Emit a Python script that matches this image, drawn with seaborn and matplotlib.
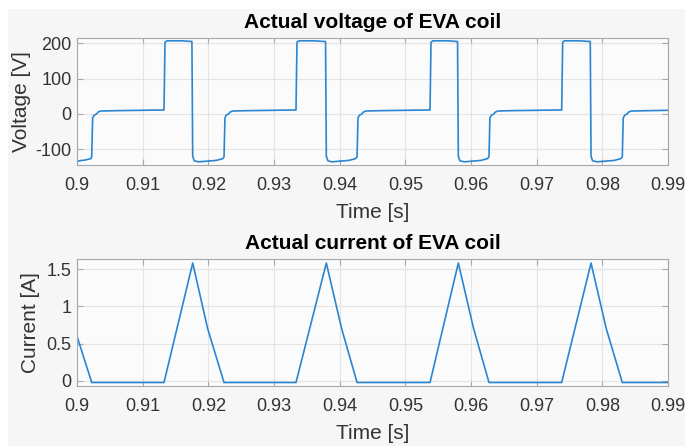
import matplotlib
matplotlib.use("Agg")
import matplotlib.pyplot as plt
from matplotlib.patches import Rectangle
import seaborn as sns

# voltage of the EVA coil
v_time = [0.9000, 0.9012, 0.9021, 0.90224, 0.90238, 0.9026, 0.9030, 0.9032, 0.9036, 0.9060,
          0.91325, 0.91340, 0.9137, 0.9160, 0.91750, 0.91762, 0.91785, 0.9185,
          0.9212, 0.9222, 0.92239, 0.92253, 0.9227, 0.9231, 0.9233, 0.9237, 0.9260,
          0.93335, 0.93350, 0.9338, 0.9360, 0.93785, 0.93797, 0.93820, 0.9388,
          0.9414, 0.9424, 0.94265, 0.94279, 0.9430, 0.9434, 0.9436, 0.9440, 0.9460,
          0.95376, 0.95391, 0.9542, 0.9565, 0.95795, 0.95807, 0.95830, 0.9590,
          0.9615, 0.9625, 0.96274, 0.96288, 0.9631, 0.9635, 0.9637, 0.9641, 0.9660,
          0.97381, 0.97396, 0.9742, 0.9765, 0.97816, 0.97828, 0.97851, 0.9792,
          0.9818, 0.9828, 0.98304, 0.98318, 0.9834, 0.9838, 0.9840, 0.9844, 0.9870, 0.9900]
v_value = [-134, -131, -127, -122, -12, -4, 0, 5, 8, 9,
           11, 203, 207, 207, 205, -120, -133, -136,
           -132, -127, -122, -12, -4, 0, 5, 8, 9,
           11, 203, 207, 207, 205, -120, -133, -136,
           -132, -127, -122, -12, -4, 0, 5, 8, 9,
           11, 203, 207, 207, 205, -120, -133, -136,
           -132, -127, -122, -12, -4, 0, 5, 8, 9,
           11, 203, 207, 207, 205, -120, -133, -136,
           -132, -127, -122, -12, -4, 0, 5, 8, 9, 10]

# current of the EVA coil
i_time = [0.9000, 0.90224, 0.91325, 0.91762, 0.9199, 0.92239,
          0.93335, 0.93797, 0.9403, 0.94265,
          0.95376, 0.95807, 0.9604, 0.96274,
          0.97381, 0.97828, 0.9806, 0.98304, 0.9900]
i_value = [0.60, -0.02, -0.02, 1.58, 0.70, -0.02,
           -0.02, 1.58, 0.70, -0.02,
           -0.02, 1.58, 0.70, -0.02,
           -0.02, 1.58, 0.70, -0.02, -0.02]

x_ticks = [0.9, 0.91, 0.92, 0.93, 0.94, 0.95, 0.96, 0.97, 0.98, 0.99]
x_labels = ["0.9", "0.91", "0.92", "0.93", "0.94", "0.95", "0.96", "0.97", "0.98", "0.99"]
v_ticks = [-100, 0, 100, 200]
i_ticks = [0, 0.5, 1, 1.5]
i_labels = ["0", "0.5", "1", "1.5"]

LINE = "#2a86d2"

sns.set_theme(style="whitegrid")
plt.rcParams["font.family"] = ["Liberation Sans", "DejaVu Sans"]

fig = plt.figure(figsize=(6.85, 4.46), dpi=100, facecolor="white")
fig.patches.append(Rectangle((8 / 685, 0), 1, 1 - 9 / 446, transform=fig.transFigure,
                             facecolor="#f6f6f6", edgecolor="none", zorder=-10))

ax1 = fig.add_axes([77 / 685, 1 - 165 / 446, 591 / 685, 127 / 446])
ax2 = fig.add_axes([77 / 685, 1 - 385.7 / 446, 591 / 685, 126.7 / 446])

sns.lineplot(x=v_time, y=v_value, ax=ax1, color=LINE, linewidth=1.2)
sns.lineplot(x=i_time, y=i_value, ax=ax2, color=LINE, linewidth=1.2)

setup = [
    (ax1, "Actual voltage of EVA coil", "Voltage [V]", (-145, 215), v_ticks, [str(t) for t in v_ticks], -0.077),
    (ax2, "Actual current of EVA coil", "Current [A]", (-0.063, 1.634), i_ticks, i_labels, -0.063),
]
for ax, title, ylab, ylim, yt, ytl, ylab_x in setup:
    ax.set_facecolor("#fbfbfb")
    ax.set_xlim(0.9, 0.99)
    ax.set_ylim(*ylim)
    ax.set_xticks(x_ticks)
    ax.set_xticklabels(x_labels)
    ax.set_yticks(yt)
    ax.set_yticklabels(ytl)
    ax.grid(True, color="#e4e4e4", linewidth=0.8)
    for s in ax.spines.values():
        s.set_color("#a8a8a8")
        s.set_linewidth(0.8)
    ax.tick_params(direction="in", length=4, width=0.8, color="#a8a8a8",
                   labelsize=13, labelcolor="#333333", top=True, right=True,
                   left=True, bottom=True)
    ax.tick_params(axis="x", pad=8.5)
    ax.tick_params(axis="y", pad=4)
    ax.set_title(title, fontsize=15, fontweight="bold", color="black", pad=7)
    ax.set_xlabel("Time [s]", fontsize=15, color="#333333")
    ax.set_ylabel(ylab, fontsize=15, color="#333333")
    ax.xaxis.set_label_coords(0.5, -0.30)
    ax.yaxis.set_label_coords(ylab_x, 0.5)

fig.savefig("out.png", dpi=100, facecolor=fig.get_facecolor())
